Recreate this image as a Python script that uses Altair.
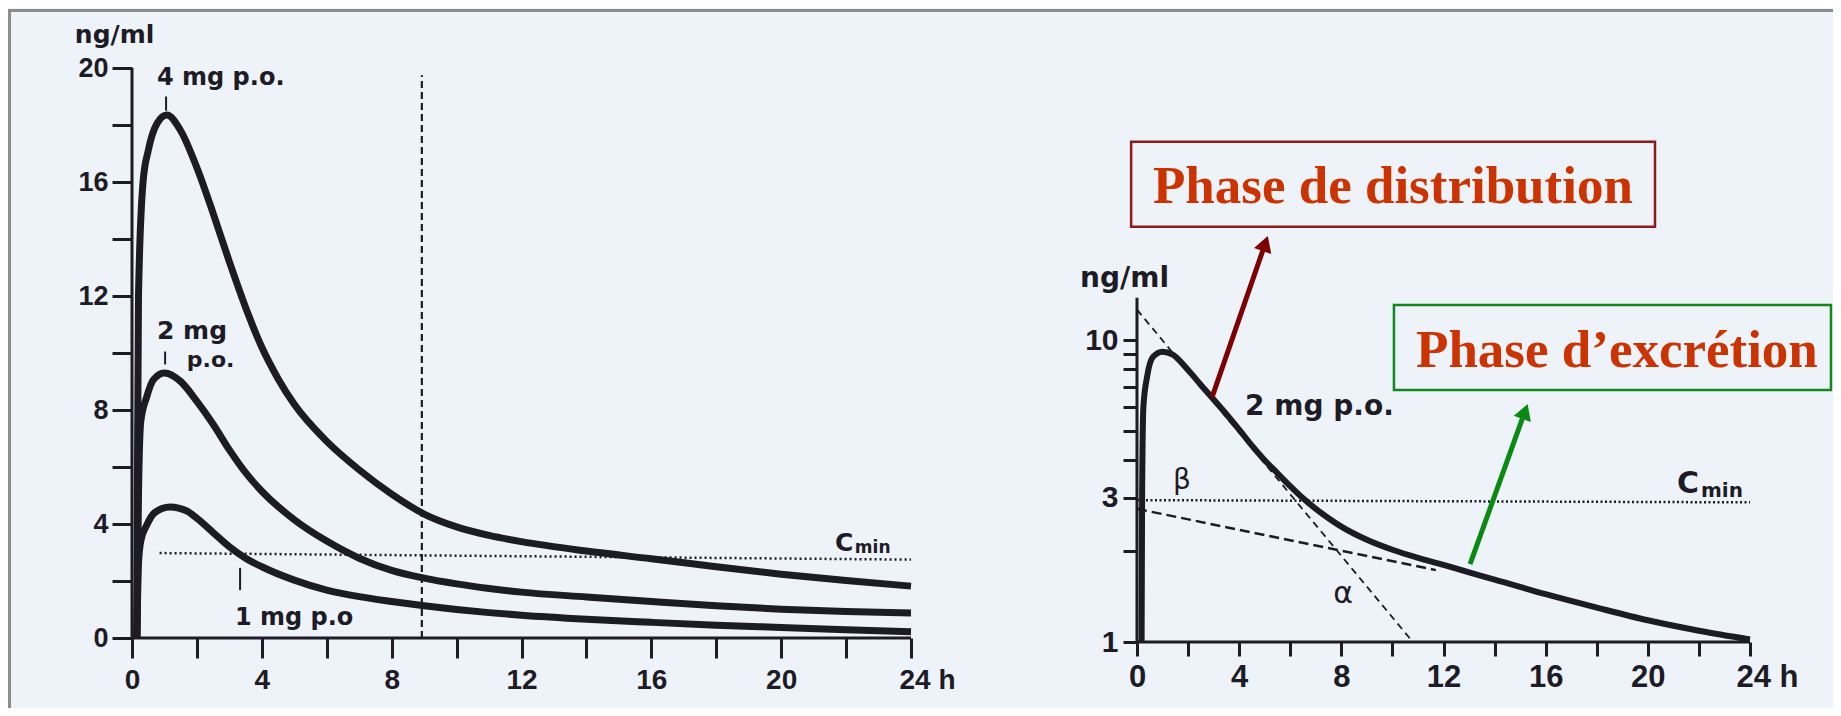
import altair as alt
import pandas as pd

# ---------------- values ----------------
# Left panel (linear scale, ng/ml vs h)
t_4mg = [0.15, 0.17, 0.2, 0.34, 0.5, 0.77, 1.07, 1.5, 2.0, 2.5, 3.0, 3.5, 4.0, 4.5, 5.0, 6.0, 7.0,
         8.0, 9.0, 10.0, 11.0, 12.0, 14.0, 16.0, 18.0, 20.0, 22.0, 24.0]
c_4mg = [0, 6, 12, 16, 17.1, 18.05, 18.35, 17.8, 16.5, 14.9, 13.2, 11.6, 10.2, 9.1, 8.2, 6.9, 5.9,
         5.05, 4.35, 3.9, 3.6, 3.38, 3.05, 2.78, 2.5, 2.24, 2.02, 1.82]
t_2mg = [0.15, 0.2, 0.27, 0.45, 0.65, 1.0, 1.5, 2.0, 2.5, 3.0, 3.5, 4.0, 5.0, 6.0, 7.0, 8.0, 9.0,
         10.0, 11.0, 12.0, 14.0, 16.0, 18.0, 20.0, 22.0, 24.0]
c_2mg = [0, 5, 7.6, 8.45, 9.05, 9.3, 9.0, 8.3, 7.5, 6.6, 5.8, 5.15, 4.15, 3.4, 2.8, 2.37, 2.1,
         1.9, 1.74, 1.61, 1.44, 1.28, 1.13, 1.01, 0.93, 0.88]
t_1mg = [0.15, 0.2, 0.27, 0.45, 0.7, 1.17, 1.7, 2.0, 2.5, 3.0, 3.5, 4.0, 5.0, 6.0, 7.0, 8.0, 9.0,
         10.0, 11.0, 12.0, 14.0, 16.0, 18.0, 20.0, 22.0, 24.0]
c_1mg = [0, 2.6, 3.4, 3.95, 4.4, 4.6, 4.45, 4.2, 3.7, 3.2, 2.8, 2.5, 2.03, 1.68, 1.45, 1.28, 1.13,
         1.0, 0.89, 0.8, 0.66, 0.55, 0.45, 0.37, 0.29, 0.22]

# Right panel (log scale, 2 mg p.o.)
t_log = [0.18, 0.2, 0.25, 0.4, 0.63, 1.0, 1.4, 2.0, 2.5, 3.0, 3.5, 4.0, 4.5, 5.0, 5.5, 6.0, 6.5,
         7.0, 7.5, 8.0, 9.0, 10.0, 11.0, 12.0, 13.0, 14.0, 16.0, 18.0, 20.0, 22.0, 24.0]
c_log = [1.0, 3.0, 6.0, 7.6, 8.8, 9.15, 8.95, 7.95, 7.1, 6.35, 5.68, 5.05, 4.47, 4.0, 3.62, 3.28, 2.99,
         2.76, 2.57, 2.41, 2.18, 2.02, 1.9, 1.8, 1.7, 1.61, 1.44, 1.3, 1.18, 1.09, 1.02]

# Reference / construction lines (data units): t, t2, c, c2
cmin_left = [0.85, 24, 2.98, 2.75]
dashed_left = [8.93, 8.93, 0, 19.75]
alpha_line = [0, 10.8, 12.6, 1.0]
beta_line = [0, 11.7, 2.76, 1.73]
cmin_right = [0, 24, 2.95, 2.9]

# Texts
left_labels = ["ng/ml", "4 mg p.o.", "2 mg", "p.o.", "1 mg p.o", "C", "min"]
left_lab_t = [-1.76, 0.77, 0.77, 1.69, 3.17, 21.66, 22.27]
left_lab_c = [20.88, 19.4, 10.5, 9.5, 0.46, 3.05, 2.98]
left_lab_fs = [25, 24, 25, 22, 24, 25, 17]

right_labels = ["ng/ml", "2 mg p.o.", "C", "min"]
right_lab_t = [-2.23, 4.23, 21.14, 22.08]
right_lab_c = [14.97, 5.65, 3.11, 3.02]
right_lab_fs = [28, 28, 30, 20]

greek = ["β", "α"]
greek_t = [1.76, 8.07]
greek_c = [3.41, 1.44]

phase_text = ["Phase de distribution", "Phase d\u2019excrétion"]
phase_t = [10.02, 18.79]
phase_c = [28.4, 8.14]
box_t = [-0.23, 10.06]
box_t2 = [20.28, 27.17]
box_c = [23.7, 6.83]
box_c2 = [45.3, 13.06]
arrow_t = [2.94, 13.04]
arrow_t2 = [5.02, 15.19]
arrow_c = [6.47, 1.81]
arrow_c2 = [20.87, 5.80]

# ---------------- geometry of the page ----------------
W, H = 1825, 700
INK = "#1d1b26"
BG = "#eef3f9"

kxL = 779 / 24.0     # px per hour, left
kyL = 28.5           # px per ng/ml, left
x0L, y0L = 124, 630  # origin in chart px
kxR = 613 / 24.0     # px per hour, right
dec = 302.0          # px per decade, right
x0R, y1R = 1129, 634

xL = alt.Scale(domain=[-x0L / kxL, (W - x0L) / kxL], nice=False, zero=False)
yL = alt.Scale(domain=[-(H - y0L) / kyL, y0L / kyL], nice=False, zero=False)
xR = alt.Scale(domain=[-x0R / kxR, (W - x0R) / kxR], nice=False, zero=False)
yR = alt.Scale(type="log", domain=[10 ** (-(H - y1R) / dec), 10 ** (y1R / dec)], nice=False)

ax_common = dict(domain=False, grid=False, title=None, labelFont="Liberation Sans",
                 labelFontWeight="bold", labelColor=INK, tickColor=INK, tickWidth=3,
                 labelOverlap=False, labelFlush=False)

axXL = alt.Axis(orient="bottom", offset=-(H - y0L), values=list(range(0, 25, 2)),
                labelExpr="datum.value % 4 == 0 ? (datum.value == 24 ? '24 h' : '' + datum.value) : ''",
                labelOffset={"condition": {"test": "datum.value == 24", "value": 16}, "value": 0},
                tickSize=20, labelPadding=8, labelFontSize=28, **ax_common)
axYL = alt.Axis(orient="left", offset=-x0L, values=list(range(0, 21, 2)),
                labelExpr="datum.value % 4 == 0 ? '' + datum.value : ''",
                tickSize=20, labelPadding=4, labelFontSize=27, **ax_common)
axXR = alt.Axis(orient="bottom", offset=-(H - y1R), values=list(range(0, 25, 2)),
                labelExpr="datum.value % 4 == 0 ? (datum.value == 24 ? '24 h' : '' + datum.value) : ''",
                labelOffset={"condition": {"test": "datum.value == 24", "value": 17}, "value": 0},
                tickSize=14, labelPadding=6, labelFontSize=31, **ax_common)
axYR = alt.Axis(orient="left", offset=-x0R, values=[1, 2, 3, 4, 5, 6, 7, 8, 9, 10],
                labelExpr="indexof([1, 3, 10], datum.value) >= 0 ? '' + datum.value : ''",
                tickSize=14, labelPadding=5, labelFontSize=30, **ax_common)

# ---------------- tables ----------------
left_curves = pd.concat([
    pd.DataFrame({"t": t_4mg, "c": c_4mg, "dose": "4 mg"}),
    pd.DataFrame({"t": t_2mg, "c": c_2mg, "dose": "2 mg"}),
    pd.DataFrame({"t": t_1mg, "c": c_1mg, "dose": "1 mg"}),
])
right_curve = pd.DataFrame({"t": t_log, "c": c_log})


def seg(rows):
    return pd.DataFrame(rows, columns=["t", "t2", "c", "c2"])


def X(field, p):
    return alt.X(field, scale=p["xs"], axis=p["xa"])


def Y(field, p):
    return alt.Y(field, scale=p["ys"], axis=p["ya"])


PL = {"xs": xL, "ys": yL, "xa": axXL, "ya": axYL}
PR = {"xs": xR, "ys": yR, "xa": axXR, "ya": axYR}


def rule_layer(df, p, **kw):
    return alt.Chart(df).mark_rule(**kw).encode(x=X("t:Q", p), x2="t2:Q", y=Y("c:Q", p), y2="c2:Q")


def text_layer(df, p, **kw):
    return alt.Chart(df).mark_text(**kw).encode(
        x=X("t:Q", p), y=Y("c:Q", p), text="label:N", size=alt.Size("fs:Q", scale=None))


# ---------------- left panel ----------------
curvesL = alt.Chart(left_curves).mark_line(color=INK, strokeWidth=7, interpolate="monotone").encode(
    x=X("t:Q", PL), y=Y("c:Q", PL), detail="dose:N")
axesL = rule_layer(seg([[0, 24, 0, 0], [0, 0, 0, 20]]), PL, color=INK, strokeWidth=3)
ticksL = rule_layer(seg([[1.05, 1.05, 18.5, 19.0], [1.02, 1.02, 9.6, 10.05], [3.33, 3.33, 1.68, 2.46]]),
                    PL, color=INK, strokeWidth=2)
dashL = rule_layer(seg([dashed_left]), PL, color=INK, strokeWidth=2.2, strokeDash=[7, 4])
cminL = rule_layer(seg([cmin_left]), PL, color=INK, strokeWidth=2.5, strokeDash=[2, 3])
textL = text_layer(pd.DataFrame({"t": left_lab_t, "c": left_lab_c, "label": left_labels, "fs": left_lab_fs}),
                   PL, align="left", baseline="alphabetic", font="DejaVu Sans", fontWeight="bold", color=INK)
frame = alt.Chart(pd.DataFrame({"k": [0]})).mark_rule(color="#8c8c8c", strokeWidth=3).encode(
    x=alt.value(0), x2=alt.value(W), y=alt.value(2.5))
frame2 = alt.Chart(pd.DataFrame({"k": [0]})).mark_rule(color="#8c8c8c", strokeWidth=3).encode(
    x=alt.value(1.5), y=alt.value(1), y2=alt.value(H))

left = alt.layer(curvesL, axesL, ticksL, dashL, cminL, textL, frame, frame2)

# ---------------- right panel ----------------
curveR = alt.Chart(right_curve).mark_line(color=INK, strokeWidth=6, interpolate="monotone").encode(
    x=X("t:Q", PR), y=Y("c:Q", PR))
axesR = rule_layer(seg([[0, 24, 1, 1], [0, 0, 1, 13.8]]), PR, color=INK, strokeWidth=3)
alphaR = rule_layer(seg([alpha_line]), PR, color=INK, strokeWidth=1.8, strokeDash=[7, 5])
betaR = rule_layer(seg([beta_line]), PR, color=INK, strokeWidth=2.5, strokeDash=[10, 5])
cminR = rule_layer(seg([cmin_right]), PR, color=INK, strokeWidth=2.5, strokeDash=[2, 2.5])
textR = text_layer(pd.DataFrame({"t": right_lab_t, "c": right_lab_c, "label": right_labels, "fs": right_lab_fs}),
                   PR, align="left", baseline="alphabetic", font="DejaVu Sans", fontWeight="bold", color=INK)
greekR = text_layer(pd.DataFrame({"t": greek_t, "c": greek_c, "label": greek, "fs": [28, 30]}),
                    PR, align="center", baseline="middle", font="DejaVu Sans", color=INK)

boxes = pd.DataFrame({"t": box_t, "t2": box_t2, "c": box_c, "c2": box_c2, "k": ["dist", "excr"]})
boxR = alt.Chart(boxes).mark_rect(fillOpacity=0, strokeWidth=2.5).encode(
    x=X("t:Q", PR), x2="t2:Q", y=Y("c:Q", PR), y2="c2:Q",
    stroke=alt.Stroke("k:N", scale=alt.Scale(domain=["dist", "excr"], range=["#8e1b1b", "#13881a"]),
                      legend=None))
phaseR = alt.Chart(pd.DataFrame({"t": phase_t, "c": phase_c, "label": phase_text})).mark_text(
    align="center", baseline="alphabetic", font="Liberation Serif", fontWeight="bold",
    fontSize=53, color="#cc3300").encode(x=X("t:Q", PR), y=Y("c:Q", PR), text="label:N")

arrows = pd.DataFrame({"t": arrow_t, "t2": arrow_t2, "c": arrow_c, "c2": arrow_c2,
                       "k": ["dist", "excr"], "ang": [19, 20]})
arrow_col = alt.Scale(domain=["dist", "excr"], range=["#7d0000", "#0a8a12"])
arrowR = alt.Chart(arrows).mark_rule(strokeWidth=5).encode(
    x=X("t:Q", PR), x2="t2:Q", y=Y("c:Q", PR), y2="c2:Q",
    color=alt.Color("k:N", scale=arrow_col, legend=None))
headR = alt.Chart(arrows).mark_point(shape="triangle-up", filled=True, size=330, opacity=1).encode(
    x=X("t2:Q", PR), y=Y("c2:Q", PR),
    color=alt.Color("k:N", scale=arrow_col, legend=None),
    angle=alt.Angle("ang:Q", scale=None))

right = alt.layer(curveR, axesR, alphaR, betaR, cminR, textR, greekR, boxR, phaseR, arrowR, headR)

chart = alt.layer(left, right).resolve_scale(
    x="independent", y="independent", color="independent", stroke="independent"
).properties(width=W, height=H, padding=0, autosize="none", background=BG
).configure_view(stroke=None)

chart.save("out.html", embed_options={"renderer": "svg", "actions": False})
